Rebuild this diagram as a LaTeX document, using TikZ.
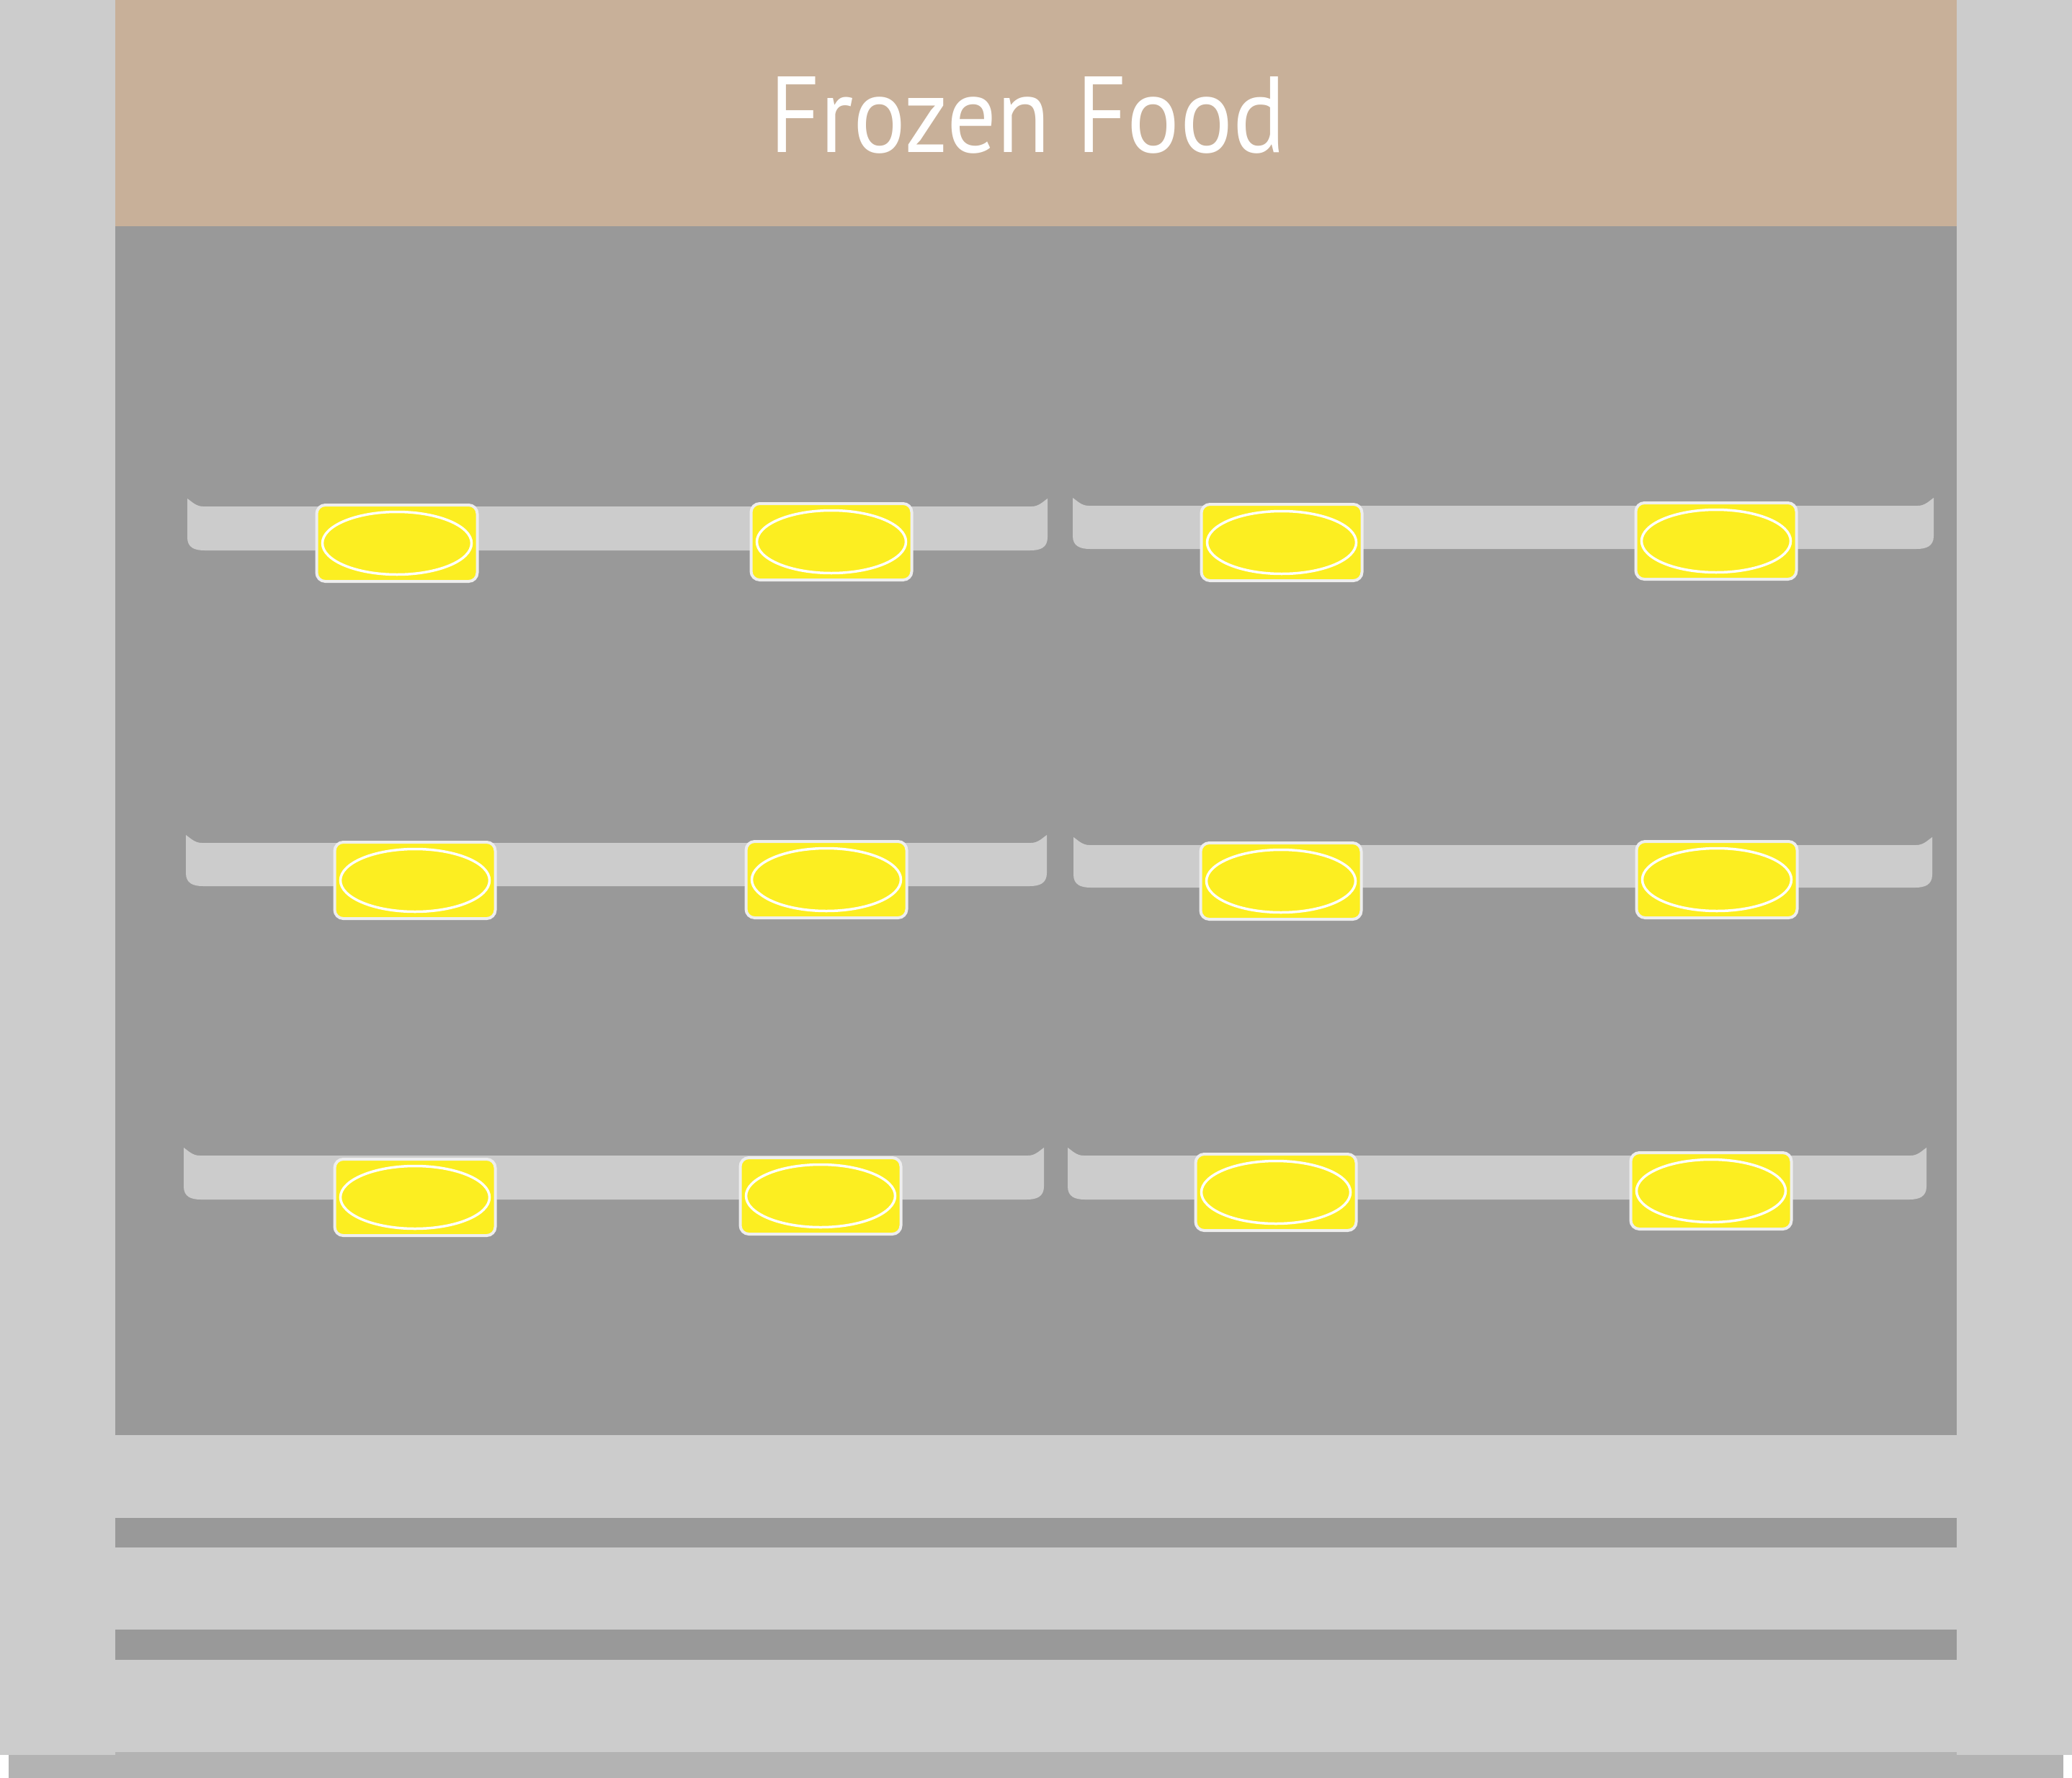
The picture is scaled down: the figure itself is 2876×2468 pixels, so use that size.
\documentclass[tikz,border=0pt]{standalone}
\usepackage{fontspec}
\setmainfont{PT Sans}
\usepackage{graphicx}
\usetikzlibrary{shapes.geometric}
\definecolor{pillargray}{HTML}{CCCCCC}
\definecolor{panelgray}{HTML}{999999}
\definecolor{basegray}{HTML}{B3B3B3}
\definecolor{bannertan}{HTML}{C8B099}
\definecolor{tagyellow}{HTML}{FCEE21}
\definecolor{tagedge}{HTML}{EEEEEE}
\newcommand{\shelfat}[5]{%
  \fill[shelffill] (#1,#3) .. controls ({#1+6},{#3+4}) and ({#1+12},#4) .. ({#1+22},#4)
    -- ({#2-22},#4) .. controls ({#2-12},#4) and ({#2-6},{#3+4}) .. (#2,#3)
    -- (#2,{#5-18}) .. controls (#2,{#5-4}) and ({#2-10},#5) .. ({#2-24},#5)
    -- ({#1+24},#5) .. controls ({#1+10},#5) and (#1,{#5-4}) .. (#1,{#5-18}) -- cycle;}
\begin{document}
\begin{tikzpicture}[x=1pt,y=-1pt,
  shelffill/.style={fill=pillargray},
  tagbox/.style={draw=tagedge, line width=4pt, fill=tagyellow, rounded corners=12pt,
    minimum width=223pt, minimum height=106pt, inner sep=0pt},
  tagoval/.style={ellipse, draw=white, line width=3.5pt, minimum width=207pt,
    minimum height=87pt, inner sep=0pt}]
\useasboundingbox (0,0) rectangle (2876,2468);
\fill[white] (0,0) rectangle (2876,2468);
% base
\fill[basegray] (12,2432) rectangle (2864,2468);
% dark panel
\fill[panelgray] (160,314) rectangle (2716,1992);
% lower bands
\fill[pillargray] (160,1992) rectangle (2716,2432);
\fill[panelgray] (160,2107) rectangle (2716,2148);
\fill[panelgray] (160,2262) rectangle (2716,2304);
% banner
\fill[bannertan] (160,0) rectangle (2716,314);
% pillars
\fill[pillargray] (0,0) rectangle (160,2436);
\fill[pillargray] (2716,0) rectangle (2876,2436);
% title
\node[anchor=base west, inner sep=0pt, text=white] (title) at (1068,211)
  {\resizebox{716pt}{105pt}{Frozen Food}};
% shelves
\shelfat{260}{1454}{692}{703}{764}
\shelfat{1489}{2684}{691}{702}{762}
\shelfat{258}{1453}{1159}{1170}{1230}
\shelfat{1490}{2682}{1162}{1173}{1232}
\shelfat{255}{1449}{1593}{1604}{1665}
\shelfat{1482}{2674}{1593}{1604}{1665}
% tags
\foreach \n/\x/\y in {a/551/754, b/1154/752, c/1779/753, d/2382/751,
                      e/576/1222, f/1147/1221, g/1778/1223, h/2383/1221,
                      i/576/1662, j/1139/1660, k/1771/1655, l/2375/1653}{
  \node[tagbox] (tag\n) at (\x,\y) {};
  \node[tagoval] (oval\n) at (tag\n.center) {};
}
\end{tikzpicture}
\end{document}
